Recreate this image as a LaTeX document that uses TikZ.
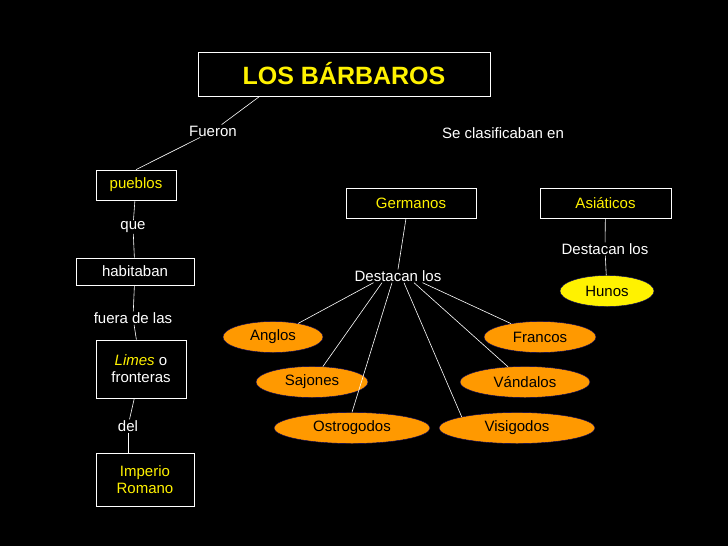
\documentclass[tikz,border=0pt]{standalone}
\usepackage{fontspec}
\setmainfont{Liberation Sans}
\usetikzlibrary{shapes.geometric}
\begin{document}
\begin{tikzpicture}[x=1pt,y=-1pt,
 bx/.style={draw=white,line width=0.8pt,text=yellow,font=\fontsize{15}{17}\selectfont,inner sep=0pt,align=center},
 lb/.style={text=white,font=\fontsize{15}{17}\selectfont,inner sep=1pt},
 el/.style={ellipse,fill=orange!80!yellow,draw=black!60!blue,text=black,font=\fontsize{15}{17}\selectfont,inner sep=0pt},
 ln/.style={draw=white,line width=0.6pt}]
\fill[black] (0,0) rectangle (728,546);
\node[bx,minimum width=292,minimum height=44,font=\fontsize{25}{28}\selectfont\bfseries] (t) at (344,74) {LOS BÁRBAROS};
\node[bx,minimum width=80,minimum height=30] (pu) at (136,185) {pueblos};
\node[bx,minimum width=118,minimum height=27] (ha) at (135,271.5) {\color{white}habitaban};
\node[bx,minimum width=90,minimum height=58] (li) at (141,369) {\textit{Limes} \color{white}o\\\color{white}fronteras};
\node[bx,minimum width=98,minimum height=53] (im) at (145,479.5) {Imperio\\Romano};
\node[bx,minimum width=130,minimum height=30] (ge) at (411,203) {Germanos};
\node[bx,minimum width=131,minimum height=30] (as) at (605.5,203) {Asiáticos};
\node[lb] (fu) at (213,131) {Fueron};
\node[lb] (se) at (503,133) {Se clasificaban en};
\node[lb] (qu) at (133,227) {que};
\node[lb] (fd) at (133,318) {fuera de las};
\node[lb] (de) at (128,426) {del};
\node[lb] (d1) at (398,276) {Destacan los};
\node[lb] (d2) at (605,249) {Destacan los};
\node[el,minimum width=100,minimum height=31] (an) at (273,337) {Anglos};
\node[el,minimum width=112,minimum height=31] (fr) at (540,337) {Francos};
\node[el,minimum width=112,minimum height=31] (sa) at (312,382) {Sajones};
\node[el,minimum width=130,minimum height=31] (va) at (525,382) {Vándalos};
\node[el,minimum width=156,minimum height=31] (os) at (352,428) {Ostrogodos};
\node[el,minimum width=156,minimum height=31] (vi) at (517,428) {Visigodos};
\node[el,fill=yellow,minimum width=94,minimum height=31] (hu) at (607,291) {Hunos};
\draw[ln] (t.south west)++(62,0) -- (fu);
\draw[ln] (fu) -- (pu.north);
\draw[ln] (pu) -- (qu);
\draw[ln] (qu) -- (ha);
\draw[ln] (ha) -- (fd);
\draw[ln] (fd) -- (li);
\draw[ln] (li) -- (de);
\draw[ln] (de.south) -- (de.south|-im.north);
\draw[ln] (ge.south) ++(-5,0) -- (d1.north);
\draw[ln] (as) -- (d2);
\draw[ln] (d2) -- (hu);
\draw[ln] (d1.south west)++(20,0) -- (an);
\draw[ln] (d1.south)++(-16,0) -- (sa);
\draw[ln] (d1.south)++(-6,0) -- (os.north);
\draw[ln] (d1.south)++(6,0) -- (vi.north west)++(0,0);
\draw[ln] (d1.south)++(16,0) -- (va);
\draw[ln] (d1.south east)++(-20,0) -- (fr);
\end{tikzpicture}
\end{document}
